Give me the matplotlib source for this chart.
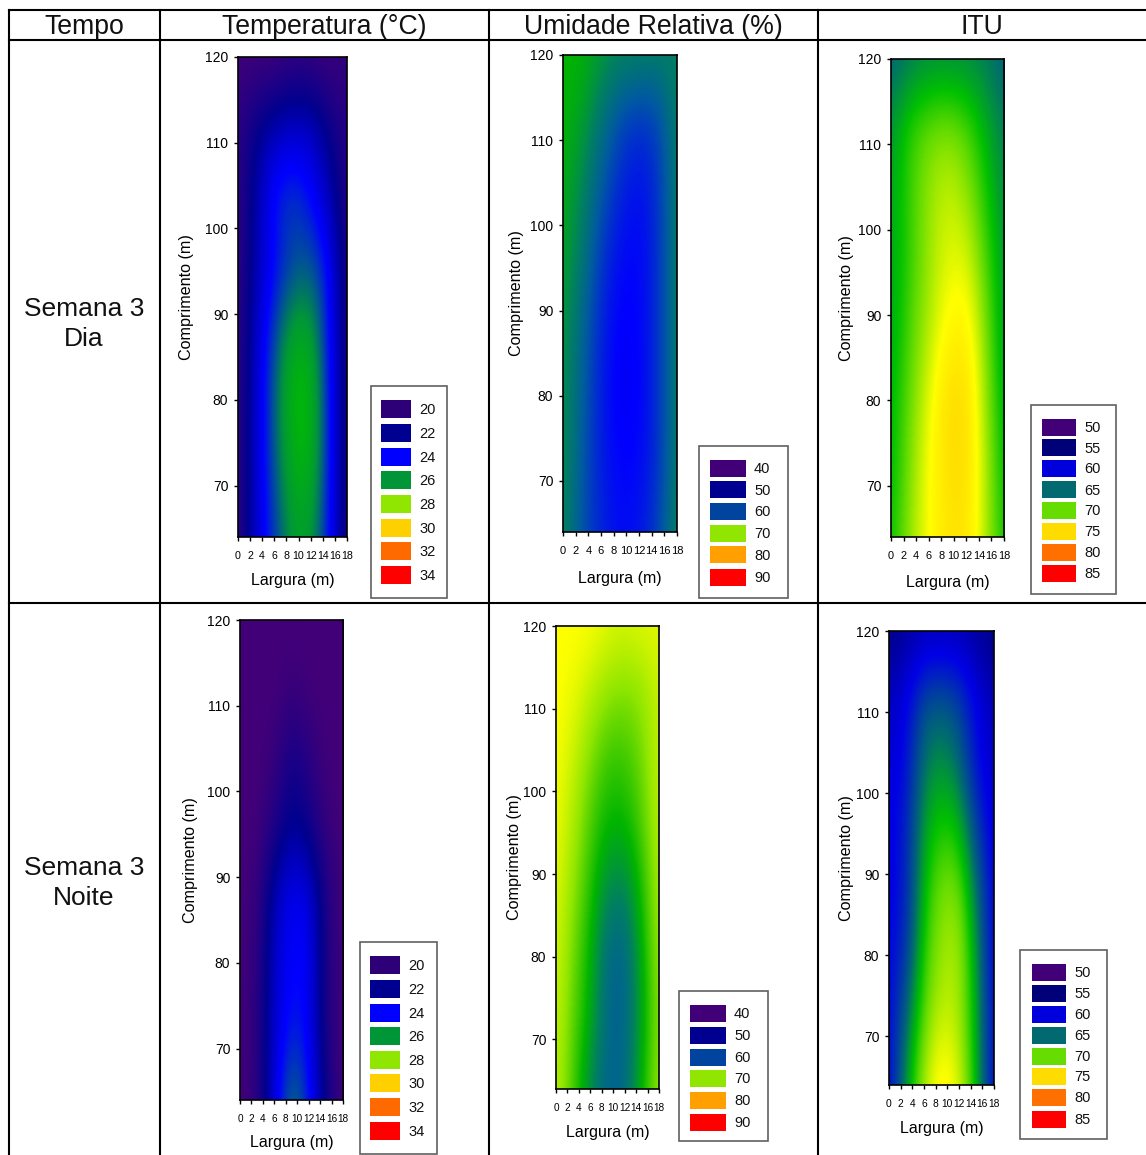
import numpy as np
import matplotlib
matplotlib.use('Agg')
import matplotlib.pyplot as plt
from matplotlib.colors import LinearSegmentedColormap
from matplotlib.patches import Rectangle

plt.rcParams['font.family'] = ['Liberation Sans', 'DejaVu Sans']

W, H = 1146, 1155

# grid the readings are taken on
largura = [0, 3, 6, 9, 12, 15, 18]
comprimento = [120, 112, 104, 96, 88, 80, 72, 64]

temp_dia = [
    [20.0, 20.0, 20.0, 20.3, 20.3, 20.0, 20.5],
    [20.8, 21.8, 22.6, 23.0, 23.0, 21.8, 20.8],
    [20.5, 22.5, 24.4, 24.9, 24.1, 22.8, 20.8],
    [20.5, 22.6, 24.0, 24.9, 25.2, 24.2, 21.0],
    [20.5, 23.0, 25.0, 26.4, 26.4, 24.4, 21.0],
    [20.5, 23.2, 25.4, 27.0, 27.0, 24.6, 21.0],
    [20.5, 23.2, 25.2, 26.6, 26.8, 24.6, 21.0],
    [20.5, 23.2, 24.8, 26.2, 26.2, 24.4, 21.0],
]
ur_dia = [
    [66.0, 66.0, 64.5, 63.5, 63.5, 63.0, 63.0],
    [66.0, 64.8, 62.0, 59.0, 57.5, 58.5, 63.0],
    [65.5, 63.5, 60.0, 57.0, 55.5, 57.5, 63.0],
    [65.0, 62.5, 58.0, 55.5, 55.0, 57.5, 63.0],
    [64.5, 61.0, 57.0, 54.5, 55.0, 57.5, 63.0],
    [64.0, 60.5, 56.5, 54.3, 54.8, 57.5, 63.0],
    [64.0, 60.0, 56.5, 55.0, 55.2, 57.5, 63.0],
    [63.5, 59.5, 57.0, 55.5, 56.0, 58.5, 63.5],
]
itu_dia = [
    [64.5, 65.5, 66.0, 66.0, 66.0, 65.5, 64.5],
    [66.5, 69.0, 70.0, 70.5, 69.5, 67.5, 65.5],
    [67.0, 69.0, 71.0, 72.0, 71.0, 68.5, 66.0],
    [67.0, 69.0, 71.0, 72.5, 72.5, 69.5, 66.5],
    [67.0, 69.5, 71.5, 73.5, 74.0, 70.5, 66.5],
    [67.5, 70.0, 72.5, 75.0, 75.0, 71.0, 67.0],
    [67.5, 70.5, 73.0, 74.8, 75.0, 71.5, 67.5],
    [68.0, 71.0, 73.0, 74.5, 74.5, 71.5, 68.0],
]
temp_noite = [
    [20.0, 20.0, 20.0, 20.0, 20.0, 20.0, 20.0],
    [20.0, 20.0, 20.0, 20.3, 20.0, 20.0, 20.0],
    [20.0, 20.0, 20.3, 21.5, 20.8, 20.0, 20.0],
    [20.0, 20.0, 21.0, 22.2, 21.5, 20.3, 20.0],
    [20.0, 20.3, 22.8, 23.9, 23.6, 21.0, 20.0],
    [20.0, 20.5, 23.2, 24.0, 24.0, 21.0, 20.0],
    [20.0, 20.7, 23.2, 24.5, 23.9, 21.0, 20.0],
    [20.0, 20.5, 23.6, 25.8, 24.5, 21.5, 20.0],
]
ur_noite = [
    [74.0, 74.0, 74.0, 73.0, 72.5, 73.0, 73.0],
    [74.0, 73.5, 71.5, 70.0, 69.5, 70.0, 72.0],
    [74.0, 72.0, 69.5, 67.5, 67.5, 69.0, 72.0],
    [73.5, 71.0, 68.0, 66.0, 66.0, 68.0, 71.5],
    [73.0, 70.0, 67.0, 63.5, 63.0, 66.5, 71.0],
    [72.5, 69.0, 66.0, 61.0, 60.5, 65.5, 70.5],
    [72.0, 68.5, 65.5, 61.0, 60.5, 65.0, 70.0],
    [71.5, 68.0, 63.5, 60.5, 61.0, 66.0, 70.5],
]
itu_noite = [
    [55.5, 56.5, 57.5, 57.5, 57.5, 56.5, 55.5],
    [58.0, 60.0, 63.5, 64.0, 63.0, 60.0, 57.5],
    [59.0, 60.5, 65.5, 66.5, 65.0, 60.5, 58.5],
    [59.5, 61.5, 67.0, 68.5, 68.0, 63.0, 59.0],
    [59.5, 61.5, 68.0, 70.5, 70.5, 65.5, 59.5],
    [60.0, 62.5, 69.0, 71.0, 71.5, 67.0, 59.5],
    [60.0, 65.0, 70.0, 72.0, 71.5, 67.5, 60.0],
    [60.0, 67.0, 71.5, 74.0, 72.5, 68.0, 60.0],
]

# legend classes
temp_classes = [20, 22, 24, 26, 28, 30, 32, 34]
ur_classes = [40, 50, 60, 70, 80, 90]
itu_classes = [50, 55, 60, 65, 70, 75, 80, 85]

temp_legend = ['#2e0078', '#000090', '#0000ff', '#009638', '#90e600', '#ffd000', '#ff6a00', '#ff0000']
ur_legend = ['#420078', '#000090', '#0044a0', '#90e600', '#ffa000', '#ff0000']
itu_legend = ['#420078', '#000078', '#0000dc', '#006a70', '#66dc00', '#ffdc00', '#ff7000', '#ff0000']

# colour ramps of the surfaces (value, colour)
temp_ramp = [(20, '#420078'), (22, '#000090'), (24, '#0000ff'), (25, '#004aa0'), (26, '#009638'),
             (27, '#00bc00'), (28, '#90e600'), (29, '#ffff00'), (30, '#ffd000'), (32, '#ff6a00'), (34, '#ff0000')]
ur_ramp = [(40, '#420078'), (50, '#000090'), (55, '#0000ff'), (60, '#005aa0'), (63, '#008060'),
           (66, '#00b400'), (70, '#90e600'), (74, '#ffff00'), (80, '#ffa000'), (90, '#ff0000')]
itu_ramp = [(50, '#420078'), (55, '#000078'), (60, '#0000e6'), (65, '#006a70'), (68, '#00c000'),
            (70, '#66dc00'), (73, '#ffff00'), (75, '#ffdc00'), (80, '#ff7000'), (85, '#ff0000')]


def make_cmap(ramp):
    lo, hi = ramp[0][0], ramp[-1][0]
    return LinearSegmentedColormap.from_list(
        'ramp', [((v - lo) / (hi - lo), c) for v, c in ramp], N=512), lo, hi


fig = plt.figure(figsize=(W / 100, H / 100), dpi=100)


def px_axes(x0, x1, y0, y1):
    return fig.add_axes([x0 / W, 1 - y1 / H, (x1 - x0) / W, (y1 - y0) / H])


def px_line(x0, y0, x1, y1):
    fig.add_artist(plt.Line2D([x0 / W, x1 / W], [1 - y0 / H, 1 - y1 / H], color='black', lw=1.5))


def px_text(x, y, s, size, ha='center'):
    fig.text(x / W, 1 - y / H, s, fontsize=size, ha=ha, va='center', color='#111111', linespacing=1.3)


# table frame
px_line(9, 9.5, W, 9.5)
px_line(9, 40, W, 40)
px_line(9, 603, W, 603)
for xv in [9, 160, 489, 818]:
    px_line(xv, 9.5, xv, H)

px_text(84, 26.5, 'Tempo', 19.2)
px_text(324, 26.5, 'Temperatura (°C)', 19.2)
px_text(653, 26.5, 'Umidade Relativa (%)', 19.2)
px_text(982, 26.5, 'ITU', 19.2)
px_text(84, 324, 'Semana 3\nDia', 19)
px_text(84, 883, 'Semana 3\nNoite', 19)


def surface(values, ramp, box, ylabel_x, xlabel_y, classes, colours, legbox, swatch, rows):
    x0, x1, y0, y1 = box
    ax = px_axes(x0, x1, y0, y1)
    cmap, lo, hi = make_cmap(ramp)
    dx = (largura[1] - largura[0]) / 2
    dy = (comprimento[0] - comprimento[1]) / 2
    ax.imshow(np.array(values), cmap=cmap, vmin=lo, vmax=hi, aspect='auto', interpolation='bicubic',
              extent=[largura[0] - dx, largura[-1] + dx, comprimento[-1] - dy, comprimento[0] + dy])
    ax.set_xlim(0, 18)
    ax.set_ylim(64, 120)
    ax.set_xticks(range(0, 19, 2))
    ax.set_yticks(range(70, 121, 10))
    # two digit labels just fit the tick spacing, as tight as the original
    ax.tick_params(axis='x', labelsize=(x1 - x0) / 9 / 1.58, length=3, width=1, pad=7)
    ax.tick_params(axis='y', labelsize=10, length=3, width=1, pad=4)
    for s in ax.spines.values():
        s.set_linewidth(1.2)
    ax.set_xlabel('Largura (m)', fontsize=11.5, va='center')
    ax.set_ylabel('Comprimento (m)', fontsize=11.6, va='center')
    ax.xaxis.set_label_coords(0.5, -(xlabel_y - y1) / (y1 - y0))
    ax.yaxis.set_label_coords(-(x0 - ylabel_x) / (x1 - x0), 0.5)

    # legend block
    lx0, lx1, ly0, ly1 = legbox
    fig.add_artist(Rectangle((lx0 / W, 1 - ly1 / H), (lx1 - lx0) / W, (ly1 - ly0) / H,
                             transform=fig.transFigure, fc='white', ec='#606060', lw=1.2))
    sx0, sx1, sh = swatch
    for c, col, yc in zip(classes, colours, rows):
        fig.add_artist(Rectangle((sx0 / W, 1 - (yc + sh / 2) / H), (sx1 - sx0) / W, sh / H,
                                 transform=fig.transFigure, fc=col, ec='none'))
        px_text(sx1 + 8, yc + 1, str(c), 10.5, ha='left')


surface(temp_dia, temp_ramp, (238, 347, 57, 537), 187, 580, temp_classes, temp_legend,
        (371, 447, 386, 598), (381, 411, 18), [409, 433, 457, 480, 504, 528, 551, 575])
surface(ur_dia, ur_ramp, (563, 677, 55, 532), 517, 578, ur_classes, ur_legend,
        (699, 788, 446, 598), (710, 746, 17), [468, 490, 511, 533, 555, 577])
surface(itu_dia, itu_ramp, (891, 1004, 59, 537), 846, 583, itu_classes, itu_legend,
        (1031, 1116, 405, 594), (1042, 1076, 17), [427, 448, 468, 490, 510, 531, 552, 573])
surface(temp_noite, temp_ramp, (240, 343, 620, 1100), 191, 1143, temp_classes, temp_legend,
        (360, 437, 942, 1154), (370, 400, 18), [965, 989, 1013, 1036, 1060, 1083, 1107, 1131])
surface(ur_noite, ur_ramp, (556, 659, 626, 1089), 514, 1133, ur_classes, ur_legend,
        (679, 768, 991, 1141), (690, 726, 17), [1013, 1035, 1057, 1078, 1100, 1122])
surface(itu_noite, itu_ramp, (889, 994, 631, 1085), 847, 1129, itu_classes, itu_legend,
        (1020, 1107, 950, 1139), (1032, 1066, 17), [972, 993, 1014, 1035, 1056, 1076, 1097, 1119])

fig.savefig('out.png', dpi=100)
